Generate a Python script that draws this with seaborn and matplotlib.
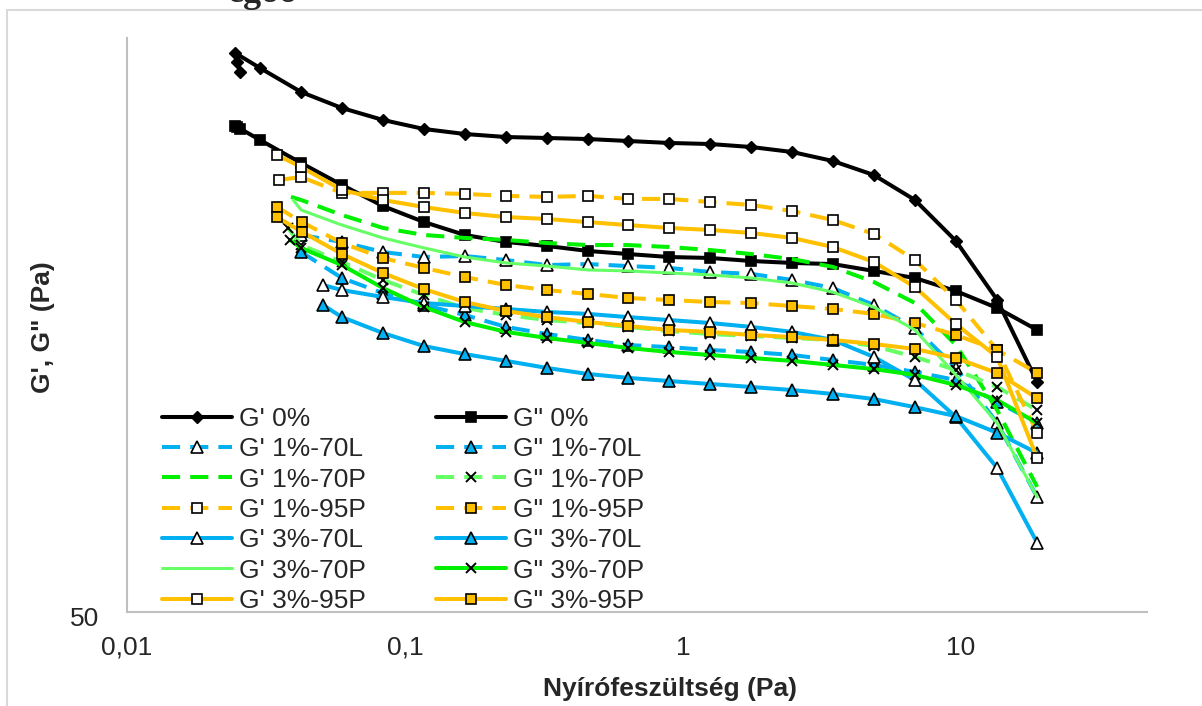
import matplotlib
matplotlib.use("Agg")
import matplotlib.pyplot as plt
import matplotlib.patches as mpatches
import matplotlib.transforms as mtransforms
import seaborn as sns

# --- data: shear stress (Pa) and moduli (Pa) ---
# stress steps shared by every series from 0.059 Pa upward
tau = [0.0593, 0.0833, 0.117, 0.164, 0.231, 0.324, 0.455, 0.634, 0.890,
       1.25, 1.76, 2.47, 3.46, 4.86, 6.83, 9.59, 13.5, 18.8]

# low-stress start points (differ per sample)
head_gp_0 = [0.0255, 0.0249, 0.0245, 0.0301, 0.0423]
head_gpp_0 = [0.0255, 0.0249, 0.0245, 0.0301, 0.0423]
head_1_70L = [0.0423]
head_1_70P_gp = [0.0389, 0.0423]
head_1_70P_gpp = [0.0379, 0.0423]
head_1_95P_gp = [0.0352, 0.0423]
head_1_95P_gpp = [0.0346, 0.0426]
head_3_70L = [0.0507]
head_3_70P_gp = [0.0396, 0.0423]
head_3_70P_gpp = [0.0386, 0.0423]
head_3_95P_gp = [0.0346, 0.0423]
head_3_95P_gpp = [0.0346, 0.0426]

gp_0 = [436.3, 454.1, 470.8, 443.3, 402.6, 377.6, 359.9, 347.1, 340.2, 336.1,
        334.8, 333.4, 330.8, 328.2, 326.8, 322.9, 316.5, 305.3, 288.6, 261.1,
        221.5, 174.8, 125.8]
gpp_0 = [347.0, 349.9, 351.5, 332.1, 302.8, 277.3, 254.8, 239.0, 226.9, 220.6,
         217.1, 212.8, 210.2, 207.7, 206.9, 204.4, 202.8, 201.9, 196.4, 190.9,
         181.2, 169.3, 155.0]
gp_1_70L = [226.9, 220.6, 211.9, 207.7, 208.5, 205.2, 201.1, 201.9, 200.3, 198.8,
            195.6, 194.1, 189.4, 183.4, 171.3, 156.2, 133.1, 106.7, 79.3]
gpp_1_70L = [211.9, 190.9, 179.7, 171.3, 164.6, 156.9, 152.5, 148.9, 145.9, 144.7,
             143.0, 141.9, 140.2, 137.4, 134.7, 131.0, 126.8, 116.1, 106.7]
gp_1_70P = [264.3, 261.1, 245.8, 233.4, 226.9, 224.2, 222.4, 219.7, 217.9, 217.9,
            216.2, 213.6, 210.2, 206.0, 199.6, 187.9, 172.7, 145.9, 112.4, 82.6]
gpp_1_70P = [233.4, 217.9, 203.6, 189.4, 178.3, 169.3, 164.6, 161.3, 159.4, 156.9,
             154.4, 152.5, 151.3, 150.1, 148.9, 145.3, 139.1, 132.0, 123.3, 112.4]
gp_1_95P = [282.9, 286.3, 268.6, 268.6, 268.6, 267.5, 265.4, 264.3, 265.4, 262.2,
            262.2, 259.0, 255.9, 249.8, 240.9, 227.8, 205.2, 174.8, 143.0, 102.6]
gpp_1_95P = [253.8, 238.9, 219.7, 206.8, 198.8, 191.7, 185.6, 181.9, 179.1, 176.2,
             174.8, 173.4, 172.7, 170.6, 168.6, 165.3, 159.4, 151.9, 143.0, 130.4]
gp_3_70L = [185.6, 181.9, 176.9, 172.7, 170.6, 168.6, 166.6, 165.3, 163.2, 161.3,
            159.4, 156.9, 153.8, 148.9, 139.1, 126.8, 109.3, 89.1, 66.0]
gpp_3_70L = [171.3, 163.2, 153.1, 145.3, 140.7, 136.9, 133.1, 129.9, 127.9, 126.3,
             124.8, 123.3, 121.8, 119.9, 117.5, 113.7, 109.7, 102.6, 94.6]
gp_3_70P = [261.1, 250.8, 236.1, 224.2, 215.4, 207.7, 202.8, 200.3, 197.2, 196.4,
            194.8, 193.3, 190.9, 187.1, 180.4, 169.9, 155.0, 129.4, 106.7, 79.3]
gpp_3_70P = [222.4, 215.3, 201.1, 183.4, 169.9, 160.0, 153.8, 150.1, 147.1, 144.2,
             141.9, 140.2, 138.5, 136.9, 134.7, 132.5, 129.4, 124.3, 117.0, 106.7]
gp_3_95P = [312.7, 298.0, 271.8, 261.1, 253.8, 247.8, 243.8, 241.9, 238.9, 236.1,
            233.4, 231.5, 228.7, 224.2, 216.2, 203.6, 184.1, 158.7, 139.1, 92.7]
gpp_3_95P = [243.8, 229.7, 210.2, 194.8, 182.6, 173.4, 167.2, 163.2, 160.0, 157.5,
             155.0, 153.8, 151.9, 150.7, 148.9, 146.5, 143.6, 138.5, 130.4, 117.9]

x_ticks = [0.01, 0.1, 1, 10]
x_ticklabels = ['0,01', '0,1', '1', '10']

# --- styles ---
BLACK = '#000000'
BLUE = '#00B0F0'
GREEN = '#00F000'
LGREEN = '#66FF66'
ORANGE = '#FFC000'
DASH = (4.5, 2.5)

# label, x head, values, colour, dashed, marker, marker face, lw
series = [
    ("G' 0%", head_gp_0, gp_0, BLACK, False, 'D', BLACK, 2.9),
    ('G" 0%', head_gpp_0, gpp_0, BLACK, False, 's', BLACK, 2.9),
    ("G' 1%-70L", head_1_70L, gp_1_70L, BLUE, True, '^', 'white', 2.9),
    ('G" 1%-70L', head_1_70L, gpp_1_70L, BLUE, True, '^', BLUE, 2.9),
    ("G' 1%-70P", head_1_70P_gp, gp_1_70P, GREEN, True, None, None, 2.9),
    ('G" 1%-70P', head_1_70P_gpp, gpp_1_70P, LGREEN, True, 'x', None, 2.9),
    ("G' 1%-95P", head_1_95P_gp, gp_1_95P, ORANGE, True, 's', 'white', 2.9),
    ('G" 1%-95P', head_1_95P_gpp, gpp_1_95P, ORANGE, True, 's', ORANGE, 2.9),
    ("G' 3%-70L", head_3_70L, gp_3_70L, BLUE, False, '^', 'white', 2.9),
    ('G" 3%-70L', head_3_70L, gpp_3_70L, BLUE, False, '^', BLUE, 2.9),
    ("G' 3%-70P", head_3_70P_gp, gp_3_70P, LGREEN, False, None, None, 2.2),
    ('G" 3%-70P', head_3_70P_gpp, gpp_3_70P, GREEN, False, 'x', None, 2.9),
    ("G' 3%-95P", head_3_95P_gp, gp_3_95P, ORANGE, False, 's', 'white', 2.9),
    ('G" 3%-95P', head_3_95P_gpp, gpp_3_95P, ORANGE, False, 's', ORANGE, 2.9),
]

sns.set_style("white")
plt.rcParams['font.family'] = ['Liberation Sans', 'DejaVu Sans']

fig = plt.figure(figsize=(12.02, 7.06), dpi=100)
ax = fig.add_axes([127 / 1202, 1 - 612 / 706, 1020 / 1202, 574 / 706])

handles = {}
for label, head, vals, color, dashed, marker, face, lw in series:
    xs = head + tau
    kw = dict(marker=marker) if marker else dict(marker='')
    if marker == 'x':
        kw.update(markersize=7.5, markeredgecolor='black', markeredgewidth=1.4)
    elif marker == 'D':
        kw.update(markersize=6.5, markerfacecolor=face, markeredgecolor='black', markeredgewidth=1)
    elif marker == '^':
        kw.update(markersize=8.5, markerfacecolor=face, markeredgecolor='black', markeredgewidth=1.2)
    elif marker == 's':
        kw.update(markersize=7.8, markerfacecolor=face, markeredgecolor='black', markeredgewidth=1.2)
    sns.lineplot(x=xs, y=vals, ax=ax, sort=False, estimator=None, color=color,
                 lw=lw, label=label, **kw)
    line = ax.lines[-1]
    if dashed:
        line.set_dashes(DASH)
    handles[label] = line

ax.set_xscale('log')
ax.set_yscale('log')
ax.set_xlim(0.01, 46.7)
ax.set_ylim(50, 500)
ax.set_xticks(x_ticks)
ax.set_xticklabels(x_ticklabels)
ax.set_yticks([50])
ax.set_yticklabels(['50'])
ax.minorticks_off()
ax.tick_params(axis='x', length=0, pad=17, labelsize=19)
ax.tick_params(axis='y', length=0, pad=20, labelsize=19)
# nudge the lone y label a little below the axis line, as in the original
shift = mtransforms.ScaledTranslation(0, -4 / 100, fig.dpi_scale_trans)
for t in ax.get_yticklabels():
    t.set_transform(t.get_transform() + shift)

for side in ['top', 'right']:
    ax.spines[side].set_visible(False)
for side in ['left', 'bottom']:
    ax.spines[side].set_color('#BFBFBF')
    ax.spines[side].set_linewidth(1.5)

ax.set_xlabel('Nyírófeszültség (Pa)', fontsize=19, fontweight='bold')
ax.set_ylabel('G\', G" (Pa)', fontsize=19, fontweight='bold')
ax.xaxis.set_label_coords(0.532, -0.113)
ax.yaxis.set_label_coords(-0.0706, 0.4965)

order = [s[0] for s in series if s[0].startswith("G'")] + \
        [s[0] for s in series if s[0].startswith('G"')]
ax.legend([handles[k] for k in order], order, loc='upper left',
          bbox_to_anchor=(162 / 1202, 1 - 407 / 706), bbox_transform=fig.transFigure,
          ncol=2, frameon=False, fontsize=19, handlelength=2.65, handletextpad=0.27,
          columnspacing=2.65, labelspacing=0.24, borderpad=0, borderaxespad=0)

# outer chart frame and the clipped caption text above it
fig.patches.append(mpatches.Rectangle((7 / 1202, -0.1), 1.2, 1 - 10 / 706 + 0.1,
                                      transform=fig.transFigure, fill=False,
                                      ec='#D9D9D9', lw=1.5))
fig.text(228 / 1202, 1 - 2 / 706, 'egoo', fontsize=26, fontweight='bold',
         family=['Liberation Serif', 'DejaVu Serif'], va='baseline', ha='left')

fig.savefig('out.png', dpi=100)
